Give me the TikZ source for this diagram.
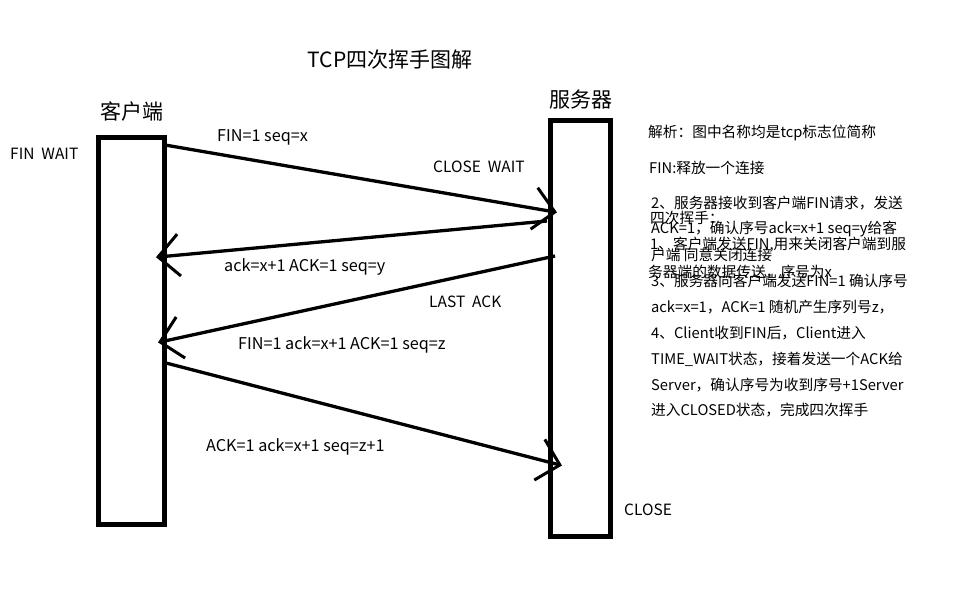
\documentclass[tikz,border=0pt]{standalone}
\usepackage{fontspec}
\setmainfont{Noto Sans CJK SC}
\usetikzlibrary{arrows.meta}
\tikzset{
  lbl/.style={anchor=west, inner sep=0pt, font=\fontsize{15.5}{18}\selectfont},
  msglbl/.style={anchor=west, inner sep=0pt, font=\fontsize{16.2}{18}\selectfont},
  note/.style={anchor=west, inner sep=0pt, font=\fontsize{14.7}{18}\selectfont},
  head/.style={anchor=center, inner sep=0pt, font=\fontsize{21}{24}\selectfont},
  lifeline/.style={draw=black, line width=5pt, fill=white, inner sep=0pt},
  msg/.style={draw=black, line width=3.3pt, -{Straight Barb[length=21pt,width=42pt,line width=3pt]}, shorten >=-2pt},
}
\begin{document}
\begin{tikzpicture}[x=1pt,y=-1pt]
\useasboundingbox[fill=white] (0,0) rectangle (955,608);
% title
\node[head] (title) at (390,60) {TCP四次挥手图解};
% lifelines
\node[lifeline, minimum width=66pt, minimum height=387.5pt] (client) at (131,330.75) {};
\node[lifeline, minimum width=59.5pt, minimum height=416pt] (server) at (580.25,328.5) {};
\node[head] (clientlbl) at (132,111) {客户端};
\node[head] (serverlbl) at (581,100) {服务器};
% states
\node[lbl] (finwait) at (10,154) {FIN\ \ WAIT};
\node[lbl] (closewait) at (433,167) {CLOSE\ \ WAIT};
\node[lbl] (lastack) at (429,302) {LAST\ \ ACK};
\node[lbl] (close) at (624,510) {CLOSE};
% message end points
\coordinate (a1s) at (165,145);
\coordinate (a1e) at (555,212);
\coordinate (a2s) at (547,221);
\coordinate (a2e) at (158,257);
\coordinate (a3s) at (555,256);
\coordinate (a3e) at (160,342);
\coordinate (a4s) at (166,363);
\coordinate (a4e) at (560,465);
\draw[msg] (a1s) -- (a1e);
\draw[msg] (a2s) -- (a2e);
\draw[msg] (a3s) -- (a3e);
\draw[msg] (a4s) -- (a4e);
% message labels
\node[msglbl] (m1) at (217,137) {FIN=1 seq=x};
\node[msglbl] (m2) at (224,267) {ack=x+1 ACK=1 seq=y};
\node[msglbl] (m3) at (238,345) {FIN=1 ack=x+1 ACK=1 seq=z};
\node[msglbl] (m4) at (206,447) {ACK=1 ack=x+1 seq=z+1};
% notes
\node[note] (n0) at (648,133) {解析：图中名称均是tcp标志位简称};
\node[note] (n1) at (649,168) {FIN:释放一个连接};
\node[note] (nA1) at (650,218) {四次挥手：};
\node[note] (nA2) at (650,245) {1、客户端发送FIN,用来关闭客户端到服};
\node[note] (nA3) at (648,272) {务器端的数据传送，序号为x};
\node[note] (nB1) at (651,203) {2、服务器接收到客户端FIN请求，发送};
\node[note] (nB2) at (651,229) {ACK=1，确认序号ack=x+1 seq=y给客};
\node[note] (nB3) at (651,255) {户端 同意关闭连接};
\node[note] (nB4) at (651,281) {3、服务器向客户端发送FIN=1 确认序号};
\node[note] (nB5) at (651,307) {ack=x=1，ACK=1 随机产生序列号z，};
\node[note] (nB6) at (651,333) {4、Client收到FIN后，Client进入};
\node[note] (nB7) at (651,359) {TIME\_WAIT状态，接着发送一个ACK给};
\node[note] (nB8) at (651,385) {Server，确认序号为收到序号+1Server};
\node[note] (nB9) at (651,410) {进入CLOSED状态，完成四次挥手};
\end{tikzpicture}
\end{document}
